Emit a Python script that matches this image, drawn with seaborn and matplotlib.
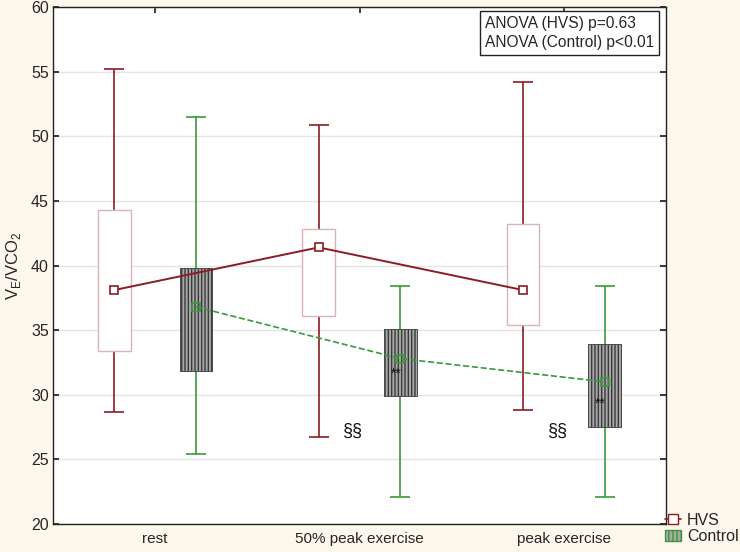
import matplotlib
matplotlib.use("Agg")
import matplotlib.pyplot as plt
import seaborn as sns
import pandas as pd
import numpy as np
from matplotlib.patches import Patch
from matplotlib.lines import Line2D

categories = ["rest", "50% peak exercise", "peak exercise"]

hvs_mean = [38.1, 41.4, 38.1]
hvs_q1 = [33.4, 36.1, 35.4]
hvs_q3 = [44.3, 42.8, 43.2]
hvs_low = [28.7, 26.7, 28.8]
hvs_high = [55.2, 50.9, 54.2]

ctl_mean = [36.8, 32.8, 31.0]
ctl_q1 = [31.8, 29.9, 27.5]
ctl_q3 = [39.8, 35.1, 33.9]
ctl_low = [25.4, 22.1, 22.1]
ctl_high = [51.5, 38.4, 38.4]

sig_section_y = [None, 27.2, 27.2]
sig_star_y = [None, 31.6, 29.3]

RED = "#8b1c24"
GREEN = "#3a9a3a"
BG = "#fdf8eb"

sns.set_theme(style="white")
plt.rcParams["font.family"] = ["Liberation Sans", "DejaVu Sans"]
plt.rcParams["hatch.linewidth"] = 1.0

fig = plt.figure(figsize=(7.4, 5.52), dpi=100, facecolor=BG)
ax = fig.add_axes([53 / 740, (552 - 524) / 552, (666 - 53) / 740, (524 - 7) / 552])
ax.set_facecolor("white")

pos = np.arange(len(categories))
off = 0.2
bw = 0.16
hx = pos - off
cx = pos + off

# whiskers
ax.errorbar(hx, hvs_mean, yerr=[np.array(hvs_mean) - np.array(hvs_low), np.array(hvs_high) - np.array(hvs_mean)],
            fmt="none", ecolor=RED, elinewidth=1.2, capsize=7.5, capthick=1.2, zorder=2)
ax.errorbar(cx, ctl_mean, yerr=[np.array(ctl_mean) - np.array(ctl_low), np.array(ctl_high) - np.array(ctl_mean)],
            fmt="none", ecolor=GREEN, elinewidth=1.2, capsize=7.5, capthick=1.2, zorder=2)

# boxes
ax.bar(hx, np.array(hvs_q3) - np.array(hvs_q1), bottom=hvs_q1, width=bw,
       facecolor="white", edgecolor="#d9b4b6", linewidth=1.0, zorder=3)
ax.bar(cx, np.array(ctl_q3) - np.array(ctl_q1), bottom=ctl_q1, width=bw,
       facecolor="#a8a8a8", edgecolor="#3a3a3a", hatch="|||||", linewidth=0.6, zorder=3)

# mean lines via seaborn
df_h = pd.DataFrame({"x": hx, "y": hvs_mean})
df_c = pd.DataFrame({"x": cx, "y": ctl_mean})
sns.lineplot(data=df_h, x="x", y="y", ax=ax, color=RED, linewidth=1.4, marker="s",
             markersize=6, markerfacecolor="white", markeredgecolor=RED, markeredgewidth=1.2, zorder=4)
sns.lineplot(data=df_c, x="x", y="y", ax=ax, color=GREEN, linewidth=1.2, linestyle="--", dashes=(3, 2),
             marker="s", markersize=6, markerfacecolor="none", markeredgecolor=GREEN, markeredgewidth=1.2, zorder=4)

for i in range(len(categories)):
    if sig_section_y[i] is not None:
        ax.text(pos[i] - 0.03, sig_section_y[i], "§§", ha="center", va="center", fontsize=13, color="#111111", zorder=5)
    if sig_star_y[i] is not None:
        ax.text(cx[i] - 0.02, sig_star_y[i], "**", ha="center", va="center", fontsize=10, color="#111111", zorder=5)

ax.set_xlim(-0.5, 2.5)
ax.set_ylim(20, 60)
ax.set_yticks(np.arange(20, 61, 5))
ax.set_xticks(pos)
ax.set_xticklabels(categories, fontsize=11)
ax.tick_params(axis="y", labelsize=11.5, direction="in", length=4, right=True, left=True, color="#222222", pad=3)
ax.tick_params(axis="x", direction="in", length=4, top=True, bottom=False, color="#222222", pad=6)
ax.yaxis.grid(True, color="#e4e4e4", linewidth=1.0)
ax.set_axisbelow(True)
for s in ax.spines.values():
    s.set_color("#222222")
    s.set_linewidth(1.0)
ax.set_xlabel("")
ax.set_ylabel(r"V$_\mathregular{E}$/VCO$_\mathregular{2}$", fontsize=12, labelpad=6)

ax.text(0.7045, 0.983, "ANOVA (HVS) p=0.63\nANOVA (Control) p<0.01", transform=ax.transAxes,
        ha="left", va="top", fontsize=11.2, linespacing=1.35,
        bbox=dict(boxstyle="square,pad=0.3", facecolor="white", edgecolor="#222222", linewidth=1.0), zorder=6)

handles = [
    Line2D([0], [0], color=RED, marker="s", markersize=7, markerfacecolor="white", markeredgecolor=RED, linewidth=1.2),
    Patch(facecolor="#a8a8a8", edgecolor=GREEN, hatch="||||", linewidth=1.0),
]
fig.legend(handles, ["HVS", "Control"], loc="lower left", bbox_to_anchor=(663 / 740, 6 / 552),
           frameon=False, fontsize=11.5, handlelength=1.0, handletextpad=0.4, labelspacing=0.1,
           borderpad=0.1, borderaxespad=0)

fig.savefig("out.png", dpi=100, facecolor=BG)
